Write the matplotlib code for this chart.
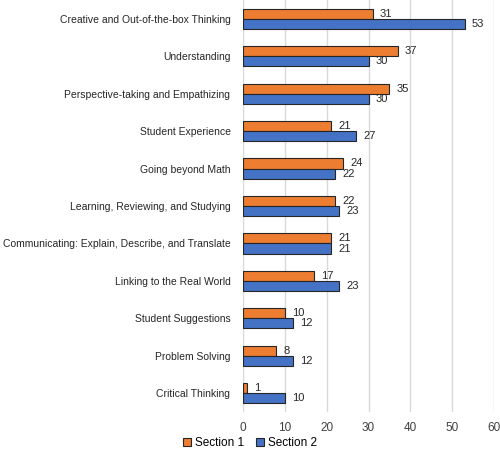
import matplotlib.pyplot as plt
import numpy as np

categories = ["Creative and Out-of-the-box Thinking", "Understanding",
              "Perspective-taking and Empathizing", "Student Experience",
              "Going beyond Math", "Learning, Reviewing, and Studying",
              "Communicating: Explain, Describe, and Translate",
              "Linking to the Real World", "Student Suggestions",
              "Problem Solving", "Critical Thinking"]
section1 = [31, 37, 35, 21, 24, 22, 21, 17, 10, 8, 1]
section2 = [53, 30, 30, 27, 22, 23, 21, 23, 12, 12, 10]

plt.rcParams['font.family'] = ['Liberation Sans', 'DejaVu Sans']

fig = plt.figure(figsize=(5, 4.53), dpi=100)
ax = fig.add_axes([0.486, 0.0905, 0.502, 0.9095])

y = np.arange(len(categories))
h = 0.27
b1 = ax.barh(y - h/2, section1, height=h, color="#ED7D31", edgecolor="#262626",
             linewidth=0.8, label="Section 1", zorder=3)
b2 = ax.barh(y + h/2, section2, height=h, color="#4472C4", edgecolor="#262626",
             linewidth=0.8, label="Section 2", zorder=3)

for yi, v in zip(y, section1):
    ax.text(v + 1.7, yi - h/2, str(v), va="center", ha="left", fontsize=8, color="#262626")
for yi, v in zip(y, section2):
    ax.text(v + 1.7, yi + h/2, str(v), va="center", ha="left", fontsize=8, color="#262626")

ax.set_ylim(len(categories) - 0.5, -0.5)
ax.set_xlim(0, 60)
ax.set_xticks(range(0, 61, 10))
ax.set_yticks(y)
ax.set_yticklabels(categories, fontsize=7.5, color="#262626")
ax.tick_params(axis="x", labelsize=8.5, colors="#404040", length=0, pad=7)
ax.tick_params(axis="y", length=0, pad=9)
ax.xaxis.grid(True, color="#D9D9D9", linewidth=1, zorder=0)
for s in ax.spines.values():
    s.set_visible(False)

fig.legend(handles=[b1, b2], loc="lower left", bbox_to_anchor=(0.345, -0.015), ncol=2,
           frameon=False, fontsize=8.5, handlelength=0.7, handleheight=0.7,
           handletextpad=0.3, columnspacing=1.0)

fig.savefig("out.png", dpi=100)
